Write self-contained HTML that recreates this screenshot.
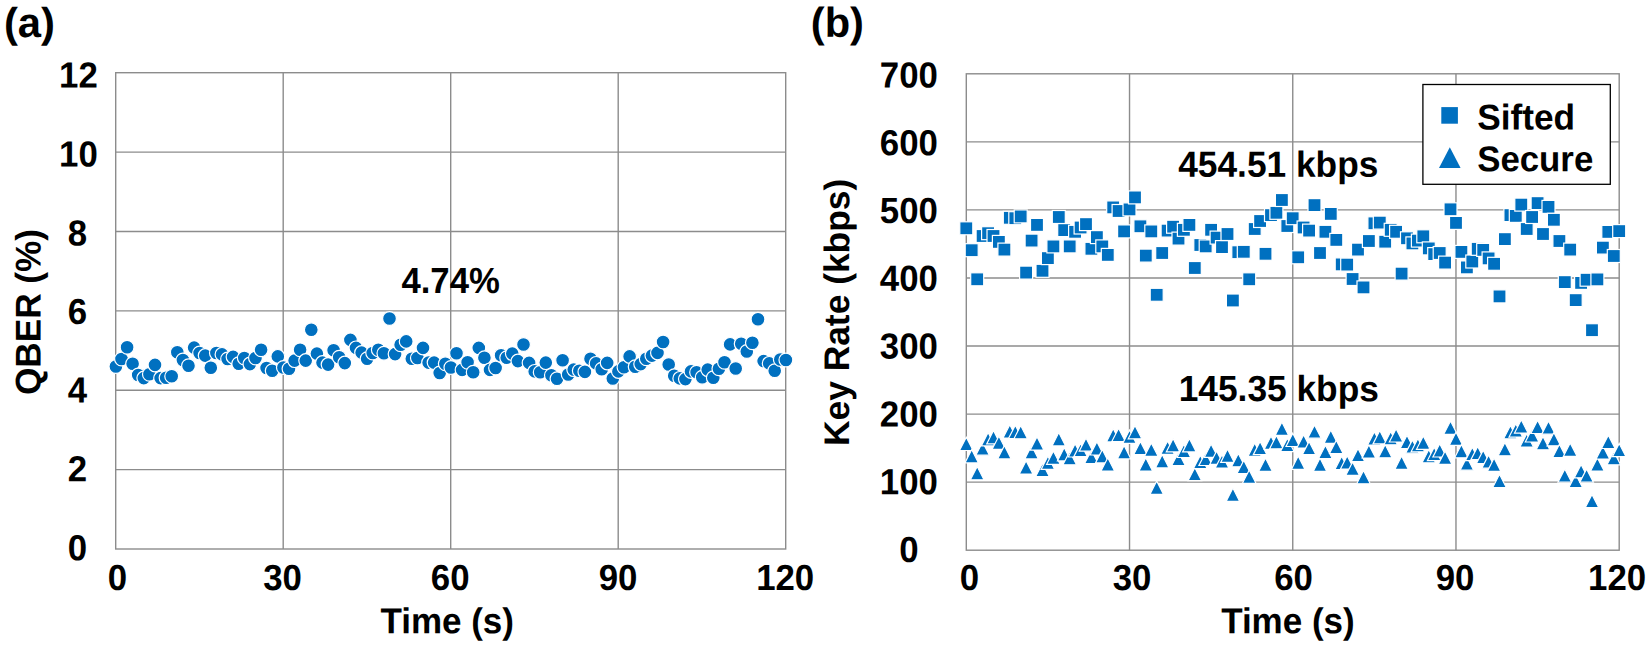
<!DOCTYPE html>
<html lang="en"><head><meta charset="utf-8"><title>QBER and Key Rate</title>
<style>html,body{margin:0;padding:0;background:#fff}body{width:1650px;height:647px;overflow:hidden}svg{display:block}text{font-family:"Liberation Sans",sans-serif;font-weight:bold;fill:#000}.g{stroke:#8c8c8c;stroke-width:1.4;fill:none}.m{fill:#0070C0;stroke:#fff;stroke-width:1.2}</style></head><body>
<svg width="1650" height="647" viewBox="0 0 1650 647">
<rect width="1650" height="647" fill="#fff"/>
<g class="g">
<rect x="115.70" y="72.70" width="670.00" height="476.30"/>
<line x1="115.70" y1="152.08" x2="785.70" y2="152.08"/>
<line x1="115.70" y1="231.47" x2="785.70" y2="231.47"/>
<line x1="115.70" y1="310.85" x2="785.70" y2="310.85"/>
<line x1="115.70" y1="390.23" x2="785.70" y2="390.23"/>
<line x1="115.70" y1="469.62" x2="785.70" y2="469.62"/>
<line x1="283.20" y1="72.70" x2="283.20" y2="549.00"/>
<line x1="450.70" y1="72.70" x2="450.70" y2="549.00"/>
<line x1="618.20" y1="72.70" x2="618.20" y2="549.00"/>
</g>
<text transform="translate(78.40,87.40) rotate(0.03) scale(1,1.042)" font-size="34.80" text-anchor="middle">12</text>
<text transform="translate(78.40,166.50) rotate(0.03) scale(1,1.042)" font-size="34.80" text-anchor="middle">10</text>
<text transform="translate(77.50,245.40) rotate(0.03) scale(1,1.042)" font-size="34.80" text-anchor="middle">8</text>
<text transform="translate(77.50,324.10) rotate(0.03) scale(1,1.042)" font-size="34.80" text-anchor="middle">6</text>
<text transform="translate(77.50,402.50) rotate(0.03) scale(1,1.042)" font-size="34.80" text-anchor="middle">4</text>
<text transform="translate(77.50,481.20) rotate(0.03) scale(1,1.042)" font-size="34.80" text-anchor="middle">2</text>
<text transform="translate(77.50,560.20) rotate(0.03) scale(1,1.042)" font-size="34.80" text-anchor="middle">0</text>
<text transform="translate(117.30,590.00) rotate(0.03) scale(1,1.042)" font-size="34.80" text-anchor="middle">0</text>
<text transform="translate(282.50,590.00) rotate(0.03) scale(1,1.042)" font-size="34.80" text-anchor="middle">30</text>
<text transform="translate(450.20,590.00) rotate(0.03) scale(1,1.042)" font-size="34.80" text-anchor="middle">60</text>
<text transform="translate(618.10,590.00) rotate(0.03) scale(1,1.042)" font-size="34.80" text-anchor="middle">90</text>
<text transform="translate(785.20,590.00) rotate(0.03) scale(1,1.042)" font-size="34.80" text-anchor="middle">120</text>
<text transform="translate(447.20,633.20) rotate(0.03) scale(1,1.030)" font-size="35.00" text-anchor="middle">Time (s)</text>
<text transform="translate(40.60,312.00) rotate(-89.97) scale(1,1.015)" font-size="35.20" text-anchor="middle">QBER (%)</text>
<text transform="translate(3.90,36.90) rotate(0.03) scale(1,1.000)" font-size="41.80" text-anchor="start">(a)</text>
<text transform="translate(450.60,293.00) rotate(0.03) scale(1,1.045)" font-size="34.70" text-anchor="middle">4.74%</text>
<g class="m">
<circle cx="115.9" cy="366.5" r="6.9"/>
<circle cx="121.5" cy="359.0" r="6.9"/>
<circle cx="127.1" cy="347.3" r="6.9"/>
<circle cx="132.6" cy="363.7" r="6.9"/>
<circle cx="138.2" cy="375.0" r="6.9"/>
<circle cx="143.8" cy="378.1" r="6.9"/>
<circle cx="149.4" cy="374.2" r="6.9"/>
<circle cx="155.0" cy="364.9" r="6.9"/>
<circle cx="160.6" cy="378.1" r="6.9"/>
<circle cx="166.1" cy="377.7" r="6.9"/>
<circle cx="171.7" cy="376.2" r="6.9"/>
<circle cx="177.3" cy="352.2" r="6.9"/>
<circle cx="182.9" cy="360.0" r="6.9"/>
<circle cx="188.5" cy="365.7" r="6.9"/>
<circle cx="194.1" cy="347.6" r="6.9"/>
<circle cx="199.6" cy="353.0" r="6.9"/>
<circle cx="205.2" cy="355.6" r="6.9"/>
<circle cx="210.8" cy="367.7" r="6.9"/>
<circle cx="216.4" cy="353.0" r="6.9"/>
<circle cx="222.0" cy="354.4" r="6.9"/>
<circle cx="227.6" cy="359.0" r="6.9"/>
<circle cx="233.1" cy="356.9" r="6.9"/>
<circle cx="238.7" cy="363.7" r="6.9"/>
<circle cx="244.3" cy="358.0" r="6.9"/>
<circle cx="249.9" cy="364.1" r="6.9"/>
<circle cx="255.5" cy="358.0" r="6.9"/>
<circle cx="261.1" cy="349.8" r="6.9"/>
<circle cx="266.6" cy="368.0" r="6.9"/>
<circle cx="272.2" cy="370.8" r="6.9"/>
<circle cx="277.8" cy="356.4" r="6.9"/>
<circle cx="283.4" cy="367.5" r="6.9"/>
<circle cx="289.0" cy="368.8" r="6.9"/>
<circle cx="294.6" cy="360.6" r="6.9"/>
<circle cx="300.1" cy="349.8" r="6.9"/>
<circle cx="305.7" cy="360.6" r="6.9"/>
<circle cx="311.3" cy="329.7" r="6.9"/>
<circle cx="316.9" cy="353.6" r="6.9"/>
<circle cx="322.5" cy="362.6" r="6.9"/>
<circle cx="328.1" cy="364.6" r="6.9"/>
<circle cx="333.6" cy="350.2" r="6.9"/>
<circle cx="339.2" cy="357.2" r="6.9"/>
<circle cx="344.8" cy="363.1" r="6.9"/>
<circle cx="350.4" cy="339.9" r="6.9"/>
<circle cx="356.0" cy="347.9" r="6.9"/>
<circle cx="361.6" cy="352.6" r="6.9"/>
<circle cx="367.1" cy="358.7" r="6.9"/>
<circle cx="372.7" cy="353.0" r="6.9"/>
<circle cx="378.3" cy="349.8" r="6.9"/>
<circle cx="383.9" cy="353.3" r="6.9"/>
<circle cx="389.5" cy="318.5" r="6.9"/>
<circle cx="395.1" cy="354.1" r="6.9"/>
<circle cx="400.6" cy="344.8" r="6.9"/>
<circle cx="406.2" cy="341.4" r="6.9"/>
<circle cx="411.8" cy="358.7" r="6.9"/>
<circle cx="417.4" cy="358.0" r="6.9"/>
<circle cx="423.0" cy="347.9" r="6.9"/>
<circle cx="428.6" cy="362.6" r="6.9"/>
<circle cx="434.1" cy="362.6" r="6.9"/>
<circle cx="439.7" cy="373.0" r="6.9"/>
<circle cx="445.3" cy="363.7" r="6.9"/>
<circle cx="450.9" cy="367.5" r="6.9"/>
<circle cx="456.5" cy="353.3" r="6.9"/>
<circle cx="462.1" cy="369.9" r="6.9"/>
<circle cx="467.6" cy="362.3" r="6.9"/>
<circle cx="473.2" cy="372.2" r="6.9"/>
<circle cx="478.8" cy="347.9" r="6.9"/>
<circle cx="484.4" cy="357.7" r="6.9"/>
<circle cx="490.0" cy="369.9" r="6.9"/>
<circle cx="495.6" cy="368.0" r="6.9"/>
<circle cx="501.1" cy="355.2" r="6.9"/>
<circle cx="506.7" cy="357.7" r="6.9"/>
<circle cx="512.3" cy="353.6" r="6.9"/>
<circle cx="517.9" cy="361.1" r="6.9"/>
<circle cx="523.5" cy="344.5" r="6.9"/>
<circle cx="529.1" cy="362.9" r="6.9"/>
<circle cx="534.7" cy="371.4" r="6.9"/>
<circle cx="540.2" cy="372.3" r="6.9"/>
<circle cx="545.8" cy="362.6" r="6.9"/>
<circle cx="551.4" cy="375.3" r="6.9"/>
<circle cx="557.0" cy="378.8" r="6.9"/>
<circle cx="562.6" cy="360.3" r="6.9"/>
<circle cx="568.2" cy="374.5" r="6.9"/>
<circle cx="573.7" cy="369.6" r="6.9"/>
<circle cx="579.3" cy="370.8" r="6.9"/>
<circle cx="584.9" cy="371.9" r="6.9"/>
<circle cx="590.5" cy="358.7" r="6.9"/>
<circle cx="596.1" cy="363.4" r="6.9"/>
<circle cx="601.7" cy="369.2" r="6.9"/>
<circle cx="607.2" cy="362.9" r="6.9"/>
<circle cx="612.8" cy="378.5" r="6.9"/>
<circle cx="618.4" cy="371.4" r="6.9"/>
<circle cx="624.0" cy="367.2" r="6.9"/>
<circle cx="629.6" cy="356.4" r="6.9"/>
<circle cx="635.2" cy="366.8" r="6.9"/>
<circle cx="640.7" cy="364.1" r="6.9"/>
<circle cx="646.3" cy="358.7" r="6.9"/>
<circle cx="651.9" cy="355.6" r="6.9"/>
<circle cx="657.5" cy="352.9" r="6.9"/>
<circle cx="663.1" cy="342.0" r="6.9"/>
<circle cx="668.7" cy="364.5" r="6.9"/>
<circle cx="674.2" cy="375.7" r="6.9"/>
<circle cx="679.8" cy="378.4" r="6.9"/>
<circle cx="685.4" cy="379.1" r="6.9"/>
<circle cx="691.0" cy="371.4" r="6.9"/>
<circle cx="696.6" cy="372.2" r="6.9"/>
<circle cx="702.2" cy="377.3" r="6.9"/>
<circle cx="707.7" cy="369.6" r="6.9"/>
<circle cx="713.3" cy="377.7" r="6.9"/>
<circle cx="718.9" cy="368.8" r="6.9"/>
<circle cx="724.5" cy="362.3" r="6.9"/>
<circle cx="730.1" cy="344.4" r="6.9"/>
<circle cx="735.7" cy="368.5" r="6.9"/>
<circle cx="741.2" cy="343.7" r="6.9"/>
<circle cx="746.8" cy="351.5" r="6.9"/>
<circle cx="752.4" cy="342.8" r="6.9"/>
<circle cx="758.0" cy="319.3" r="6.9"/>
<circle cx="763.6" cy="361.1" r="6.9"/>
<circle cx="769.2" cy="363.4" r="6.9"/>
<circle cx="774.7" cy="370.8" r="6.9"/>
<circle cx="780.3" cy="359.5" r="6.9"/>
<circle cx="785.9" cy="360.0" r="6.9"/>
</g>
<g class="g">
<rect x="966.30" y="73.80" width="652.90" height="476.40"/>
<line x1="966.30" y1="141.86" x2="1619.20" y2="141.86"/>
<line x1="966.30" y1="209.91" x2="1619.20" y2="209.91"/>
<line x1="966.30" y1="277.97" x2="1619.20" y2="277.97"/>
<line x1="966.30" y1="346.03" x2="1619.20" y2="346.03"/>
<line x1="966.30" y1="414.09" x2="1619.20" y2="414.09"/>
<line x1="966.30" y1="482.14" x2="1619.20" y2="482.14"/>
<line x1="1129.53" y1="73.80" x2="1129.53" y2="550.20"/>
<line x1="1292.75" y1="73.80" x2="1292.75" y2="550.20"/>
<line x1="1455.97" y1="73.80" x2="1455.97" y2="550.20"/>
</g>
<text transform="translate(908.80,87.40) rotate(0.03) scale(1,1.042)" font-size="34.80" text-anchor="middle">700</text>
<text transform="translate(908.80,155.20) rotate(0.03) scale(1,1.042)" font-size="34.80" text-anchor="middle">600</text>
<text transform="translate(908.80,223.00) rotate(0.03) scale(1,1.042)" font-size="34.80" text-anchor="middle">500</text>
<text transform="translate(908.80,290.80) rotate(0.03) scale(1,1.042)" font-size="34.80" text-anchor="middle">400</text>
<text transform="translate(908.80,358.60) rotate(0.03) scale(1,1.042)" font-size="34.80" text-anchor="middle">300</text>
<text transform="translate(908.80,426.40) rotate(0.03) scale(1,1.042)" font-size="34.80" text-anchor="middle">200</text>
<text transform="translate(908.80,494.20) rotate(0.03) scale(1,1.042)" font-size="34.80" text-anchor="middle">100</text>
<text transform="translate(908.80,562.00) rotate(0.03) scale(1,1.042)" font-size="34.80" text-anchor="middle">0</text>
<text transform="translate(969.50,590.00) rotate(0.03) scale(1,1.042)" font-size="34.80" text-anchor="middle">0</text>
<text transform="translate(1132.00,590.00) rotate(0.03) scale(1,1.042)" font-size="34.80" text-anchor="middle">30</text>
<text transform="translate(1293.50,590.00) rotate(0.03) scale(1,1.042)" font-size="34.80" text-anchor="middle">60</text>
<text transform="translate(1455.10,590.00) rotate(0.03) scale(1,1.042)" font-size="34.80" text-anchor="middle">90</text>
<text transform="translate(1617.10,590.00) rotate(0.03) scale(1,1.042)" font-size="34.80" text-anchor="middle">120</text>
<text transform="translate(1287.90,633.20) rotate(0.03) scale(1,1.030)" font-size="35.00" text-anchor="middle">Time (s)</text>
<text transform="translate(849.10,312.40) rotate(-89.97) scale(1,1.005)" font-size="35.40" text-anchor="middle">Key Rate (kbps)</text>
<text transform="translate(810.80,36.70) rotate(0.03) scale(1,1.000)" font-size="41.60" text-anchor="start">(b)</text>
<text transform="translate(1278.30,176.80) rotate(0.03) scale(1,1.030)" font-size="35.30" text-anchor="middle">454.51 kbps</text>
<text transform="translate(1278.80,401.10) rotate(0.03) scale(1,1.030)" font-size="35.30" text-anchor="middle">145.35 kbps</text>
<g class="m">
<rect x="959.8" y="221.8" width="13" height="13"/>
<rect x="965.2" y="243.7" width="13" height="13"/>
<rect x="970.7" y="272.8" width="13" height="13"/>
<rect x="976.1" y="229.5" width="13" height="13"/>
<rect x="981.6" y="226.7" width="13" height="13"/>
<rect x="987.0" y="229.5" width="13" height="13"/>
<rect x="992.4" y="235.4" width="13" height="13"/>
<rect x="997.9" y="243.1" width="13" height="13"/>
<rect x="1003.3" y="211.3" width="13" height="13"/>
<rect x="1008.8" y="211.7" width="13" height="13"/>
<rect x="1014.2" y="209.9" width="13" height="13"/>
<rect x="1019.6" y="266.1" width="13" height="13"/>
<rect x="1025.1" y="234.1" width="13" height="13"/>
<rect x="1030.5" y="218.4" width="13" height="13"/>
<rect x="1036.0" y="264.3" width="13" height="13"/>
<rect x="1041.4" y="251.6" width="13" height="13"/>
<rect x="1046.9" y="239.9" width="13" height="13"/>
<rect x="1052.3" y="210.5" width="13" height="13"/>
<rect x="1057.7" y="223.6" width="13" height="13"/>
<rect x="1063.2" y="239.9" width="13" height="13"/>
<rect x="1068.6" y="225.3" width="13" height="13"/>
<rect x="1074.1" y="221.0" width="13" height="13"/>
<rect x="1079.5" y="217.6" width="13" height="13"/>
<rect x="1084.9" y="242.3" width="13" height="13"/>
<rect x="1090.4" y="230.6" width="13" height="13"/>
<rect x="1095.8" y="239.9" width="13" height="13"/>
<rect x="1101.3" y="248.4" width="13" height="13"/>
<rect x="1106.7" y="200.9" width="13" height="13"/>
<rect x="1112.1" y="204.5" width="13" height="13"/>
<rect x="1117.6" y="224.9" width="13" height="13"/>
<rect x="1123.0" y="202.9" width="13" height="13"/>
<rect x="1128.5" y="190.9" width="13" height="13"/>
<rect x="1133.9" y="219.8" width="13" height="13"/>
<rect x="1139.3" y="249.1" width="13" height="13"/>
<rect x="1144.8" y="224.9" width="13" height="13"/>
<rect x="1150.2" y="288.3" width="13" height="13"/>
<rect x="1155.7" y="246.5" width="13" height="13"/>
<rect x="1161.1" y="224.1" width="13" height="13"/>
<rect x="1166.6" y="220.2" width="13" height="13"/>
<rect x="1172.0" y="232.1" width="13" height="13"/>
<rect x="1177.4" y="223.3" width="13" height="13"/>
<rect x="1182.9" y="218.4" width="13" height="13"/>
<rect x="1188.3" y="261.5" width="13" height="13"/>
<rect x="1193.8" y="238.5" width="13" height="13"/>
<rect x="1199.2" y="239.9" width="13" height="13"/>
<rect x="1204.6" y="223.3" width="13" height="13"/>
<rect x="1210.1" y="231.1" width="13" height="13"/>
<rect x="1215.5" y="240.6" width="13" height="13"/>
<rect x="1221.0" y="227.5" width="13" height="13"/>
<rect x="1226.4" y="294.0" width="13" height="13"/>
<rect x="1231.8" y="245.7" width="13" height="13"/>
<rect x="1237.3" y="245.3" width="13" height="13"/>
<rect x="1242.7" y="272.8" width="13" height="13"/>
<rect x="1248.2" y="222.5" width="13" height="13"/>
<rect x="1253.6" y="214.5" width="13" height="13"/>
<rect x="1259.0" y="247.3" width="13" height="13"/>
<rect x="1264.5" y="208.6" width="13" height="13"/>
<rect x="1269.9" y="206.3" width="13" height="13"/>
<rect x="1275.4" y="193.5" width="13" height="13"/>
<rect x="1280.8" y="219.5" width="13" height="13"/>
<rect x="1286.2" y="211.7" width="13" height="13"/>
<rect x="1291.7" y="250.8" width="13" height="13"/>
<rect x="1297.1" y="221.0" width="13" height="13"/>
<rect x="1302.6" y="224.1" width="13" height="13"/>
<rect x="1308.0" y="198.6" width="13" height="13"/>
<rect x="1313.5" y="246.5" width="13" height="13"/>
<rect x="1318.9" y="225.3" width="13" height="13"/>
<rect x="1324.3" y="207.4" width="13" height="13"/>
<rect x="1329.8" y="233.4" width="13" height="13"/>
<rect x="1335.2" y="257.9" width="13" height="13"/>
<rect x="1340.7" y="258.1" width="13" height="13"/>
<rect x="1346.1" y="272.5" width="13" height="13"/>
<rect x="1351.5" y="243.1" width="13" height="13"/>
<rect x="1357.0" y="280.9" width="13" height="13"/>
<rect x="1362.4" y="234.5" width="13" height="13"/>
<rect x="1367.9" y="216.8" width="13" height="13"/>
<rect x="1373.3" y="216.1" width="13" height="13"/>
<rect x="1378.7" y="235.2" width="13" height="13"/>
<rect x="1384.2" y="223.3" width="13" height="13"/>
<rect x="1389.6" y="225.3" width="13" height="13"/>
<rect x="1395.1" y="267.1" width="13" height="13"/>
<rect x="1400.5" y="231.8" width="13" height="13"/>
<rect x="1405.9" y="236.9" width="13" height="13"/>
<rect x="1411.4" y="234.1" width="13" height="13"/>
<rect x="1416.8" y="229.8" width="13" height="13"/>
<rect x="1422.3" y="241.9" width="13" height="13"/>
<rect x="1427.7" y="247.6" width="13" height="13"/>
<rect x="1433.2" y="246.5" width="13" height="13"/>
<rect x="1438.6" y="256.1" width="13" height="13"/>
<rect x="1444.0" y="202.8" width="13" height="13"/>
<rect x="1449.5" y="216.4" width="13" height="13"/>
<rect x="1454.9" y="245.4" width="13" height="13"/>
<rect x="1460.4" y="260.9" width="13" height="13"/>
<rect x="1465.8" y="255.0" width="13" height="13"/>
<rect x="1471.2" y="242.3" width="13" height="13"/>
<rect x="1476.7" y="243.4" width="13" height="13"/>
<rect x="1482.1" y="251.9" width="13" height="13"/>
<rect x="1487.6" y="257.3" width="13" height="13"/>
<rect x="1493.0" y="289.9" width="13" height="13"/>
<rect x="1498.4" y="232.6" width="13" height="13"/>
<rect x="1503.9" y="208.6" width="13" height="13"/>
<rect x="1509.3" y="209.4" width="13" height="13"/>
<rect x="1514.8" y="198.1" width="13" height="13"/>
<rect x="1520.2" y="222.5" width="13" height="13"/>
<rect x="1525.6" y="210.5" width="13" height="13"/>
<rect x="1531.1" y="196.6" width="13" height="13"/>
<rect x="1536.5" y="227.5" width="13" height="13"/>
<rect x="1542.0" y="200.4" width="13" height="13"/>
<rect x="1547.4" y="213.3" width="13" height="13"/>
<rect x="1552.9" y="234.5" width="13" height="13"/>
<rect x="1558.3" y="275.6" width="13" height="13"/>
<rect x="1563.7" y="243.1" width="13" height="13"/>
<rect x="1569.2" y="293.6" width="13" height="13"/>
<rect x="1574.6" y="276.4" width="13" height="13"/>
<rect x="1580.1" y="273.2" width="13" height="13"/>
<rect x="1585.5" y="323.7" width="13" height="13"/>
<rect x="1590.9" y="272.9" width="13" height="13"/>
<rect x="1596.4" y="241.1" width="13" height="13"/>
<rect x="1601.8" y="225.4" width="13" height="13"/>
<rect x="1607.3" y="249.5" width="13" height="13"/>
<rect x="1612.7" y="224.6" width="13" height="13"/>
<path d="M966.3 437.2L973.1 450.5L959.5 450.5Z"/>
<path d="M971.7 449.6L978.5 462.9L964.9 462.9Z"/>
<path d="M977.2 466.5L984.0 479.8L970.4 479.8Z"/>
<path d="M982.6 441.9L989.4 455.2L975.8 455.2Z"/>
<path d="M988.1 432.6L994.9 445.9L981.3 445.9Z"/>
<path d="M993.5 430.6L1000.3 443.9L986.7 443.9Z"/>
<path d="M998.9 436.0L1005.7 449.3L992.1 449.3Z"/>
<path d="M1004.4 445.6L1011.2 458.9L997.6 458.9Z"/>
<path d="M1009.8 424.7L1016.6 438.0L1003.0 438.0Z"/>
<path d="M1015.3 425.2L1022.1 438.5L1008.5 438.5Z"/>
<path d="M1020.7 425.5L1027.5 438.8L1013.9 438.8Z"/>
<path d="M1026.1 460.7L1032.9 474.0L1019.3 474.0Z"/>
<path d="M1031.6 445.6L1038.4 458.9L1024.8 458.9Z"/>
<path d="M1037.0 436.8L1043.8 450.1L1030.2 450.1Z"/>
<path d="M1042.5 463.2L1049.3 476.5L1035.7 476.5Z"/>
<path d="M1047.9 456.1L1054.7 469.4L1041.1 469.4Z"/>
<path d="M1053.4 451.0L1060.2 464.3L1046.6 464.3Z"/>
<path d="M1058.8 432.6L1065.6 445.9L1052.0 445.9Z"/>
<path d="M1064.2 447.6L1071.0 460.9L1057.4 460.9Z"/>
<path d="M1069.7 451.5L1076.5 464.8L1062.9 464.8Z"/>
<path d="M1075.1 443.7L1081.9 457.0L1068.3 457.0Z"/>
<path d="M1080.6 443.4L1087.4 456.7L1073.8 456.7Z"/>
<path d="M1086.0 437.9L1092.8 451.2L1079.2 451.2Z"/>
<path d="M1091.4 450.2L1098.2 463.5L1084.6 463.5Z"/>
<path d="M1096.9 441.7L1103.7 455.0L1090.1 455.0Z"/>
<path d="M1102.3 449.6L1109.1 462.9L1095.5 462.9Z"/>
<path d="M1107.8 457.7L1114.6 471.0L1101.0 471.0Z"/>
<path d="M1113.2 428.6L1120.0 441.9L1106.4 441.9Z"/>
<path d="M1118.6 428.3L1125.4 441.6L1111.8 441.6Z"/>
<path d="M1124.1 445.6L1130.9 458.9L1117.3 458.9Z"/>
<path d="M1129.5 430.1L1136.3 443.4L1122.7 443.4Z"/>
<path d="M1135.0 425.5L1141.8 438.8L1128.2 438.8Z"/>
<path d="M1140.4 441.4L1147.2 454.7L1133.6 454.7Z"/>
<path d="M1145.8 457.7L1152.6 471.0L1139.0 471.0Z"/>
<path d="M1151.3 443.0L1158.1 456.3L1144.5 456.3Z"/>
<path d="M1156.7 481.1L1163.5 494.4L1149.9 494.4Z"/>
<path d="M1162.2 454.6L1169.0 467.9L1155.4 467.9Z"/>
<path d="M1167.6 441.0L1174.4 454.3L1160.8 454.3Z"/>
<path d="M1173.1 438.6L1179.9 451.9L1166.3 451.9Z"/>
<path d="M1178.5 452.2L1185.3 465.5L1171.7 465.5Z"/>
<path d="M1183.9 444.2L1190.7 457.5L1177.1 457.5Z"/>
<path d="M1189.4 438.6L1196.2 451.9L1182.6 451.9Z"/>
<path d="M1194.8 467.4L1201.6 480.7L1188.0 480.7Z"/>
<path d="M1200.3 455.3L1207.1 468.6L1193.5 468.6Z"/>
<path d="M1205.7 452.2L1212.5 465.5L1198.9 465.5Z"/>
<path d="M1211.1 444.0L1217.9 457.3L1204.3 457.3Z"/>
<path d="M1216.6 451.0L1223.4 464.3L1209.8 464.3Z"/>
<path d="M1222.0 454.7L1228.8 468.0L1215.2 468.0Z"/>
<path d="M1227.5 449.1L1234.3 462.4L1220.7 462.4Z"/>
<path d="M1232.9 488.1L1239.7 501.4L1226.1 501.4Z"/>
<path d="M1238.3 453.5L1245.1 466.8L1231.5 466.8Z"/>
<path d="M1243.8 460.3L1250.6 473.6L1237.0 473.6Z"/>
<path d="M1249.2 470.0L1256.0 483.3L1242.4 483.3Z"/>
<path d="M1254.7 443.1L1261.5 456.4L1247.9 456.4Z"/>
<path d="M1260.1 441.4L1266.9 454.7L1253.3 454.7Z"/>
<path d="M1265.5 458.0L1272.3 471.3L1258.7 471.3Z"/>
<path d="M1271.0 436.0L1277.8 449.3L1264.2 449.3Z"/>
<path d="M1276.4 435.5L1283.2 448.8L1269.6 448.8Z"/>
<path d="M1281.9 422.1L1288.7 435.4L1275.1 435.4Z"/>
<path d="M1287.3 438.3L1294.1 451.6L1280.5 451.6Z"/>
<path d="M1292.8 433.2L1299.5 446.5L1286.0 446.5Z"/>
<path d="M1298.2 456.1L1305.0 469.4L1291.4 469.4Z"/>
<path d="M1303.6 434.8L1310.4 448.1L1296.8 448.1Z"/>
<path d="M1309.1 441.4L1315.9 454.7L1302.3 454.7Z"/>
<path d="M1314.5 424.9L1321.3 438.2L1307.7 438.2Z"/>
<path d="M1320.0 458.1L1326.8 471.4L1313.2 471.4Z"/>
<path d="M1325.4 445.3L1332.2 458.6L1318.6 458.6Z"/>
<path d="M1330.8 430.1L1337.6 443.4L1324.0 443.4Z"/>
<path d="M1336.3 440.2L1343.1 453.5L1329.5 453.5Z"/>
<path d="M1341.7 456.3L1348.5 469.6L1334.9 469.6Z"/>
<path d="M1347.2 455.8L1354.0 469.1L1340.4 469.1Z"/>
<path d="M1352.6 462.0L1359.4 475.3L1345.8 475.3Z"/>
<path d="M1358.0 448.4L1364.8 461.7L1351.2 461.7Z"/>
<path d="M1363.5 470.5L1370.3 483.8L1356.7 483.8Z"/>
<path d="M1368.9 444.7L1375.7 458.0L1362.1 458.0Z"/>
<path d="M1374.4 431.7L1381.2 445.0L1367.6 445.0Z"/>
<path d="M1379.8 430.6L1386.6 443.9L1373.0 443.9Z"/>
<path d="M1385.2 444.5L1392.0 457.8L1378.4 457.8Z"/>
<path d="M1390.7 431.5L1397.5 444.8L1383.9 444.8Z"/>
<path d="M1396.1 428.7L1402.9 442.0L1389.3 442.0Z"/>
<path d="M1401.6 456.1L1408.4 469.4L1394.8 469.4Z"/>
<path d="M1407.0 435.2L1413.8 448.5L1400.2 448.5Z"/>
<path d="M1412.4 439.9L1419.2 453.2L1405.6 453.2Z"/>
<path d="M1417.9 438.5L1424.7 451.8L1411.1 451.8Z"/>
<path d="M1423.3 436.0L1430.1 449.3L1416.5 449.3Z"/>
<path d="M1428.8 449.5L1435.6 462.8L1422.0 462.8Z"/>
<path d="M1434.2 447.3L1441.0 460.6L1427.4 460.6Z"/>
<path d="M1439.7 443.7L1446.5 457.0L1432.9 457.0Z"/>
<path d="M1445.1 451.0L1451.9 464.3L1438.3 464.3Z"/>
<path d="M1450.5 421.0L1457.3 434.3L1443.7 434.3Z"/>
<path d="M1456.0 432.1L1462.8 445.4L1449.2 445.4Z"/>
<path d="M1461.4 444.5L1468.2 457.8L1454.6 457.8Z"/>
<path d="M1466.9 456.9L1473.7 470.2L1460.1 470.2Z"/>
<path d="M1472.3 447.3L1479.1 460.6L1465.5 460.6Z"/>
<path d="M1477.7 446.4L1484.5 459.7L1470.9 459.7Z"/>
<path d="M1483.2 450.2L1490.0 463.5L1476.4 463.5Z"/>
<path d="M1488.6 454.9L1495.4 468.2L1481.8 468.2Z"/>
<path d="M1494.1 458.1L1500.9 471.4L1487.3 471.4Z"/>
<path d="M1499.5 474.3L1506.3 487.6L1492.7 487.6Z"/>
<path d="M1504.9 442.5L1511.7 455.8L1498.1 455.8Z"/>
<path d="M1510.4 425.5L1517.2 438.8L1503.6 438.8Z"/>
<path d="M1515.8 423.8L1522.6 437.1L1509.0 437.1Z"/>
<path d="M1521.3 419.8L1528.1 433.1L1514.5 433.1Z"/>
<path d="M1526.7 433.8L1533.5 447.1L1519.9 447.1Z"/>
<path d="M1532.1 428.7L1538.9 442.0L1525.3 442.0Z"/>
<path d="M1537.6 420.2L1544.4 433.5L1530.8 433.5Z"/>
<path d="M1543.0 436.5L1549.8 449.8L1536.2 449.8Z"/>
<path d="M1548.5 420.9L1555.3 434.2L1541.7 434.2Z"/>
<path d="M1553.9 432.5L1560.7 445.8L1547.1 445.8Z"/>
<path d="M1559.4 444.2L1566.2 457.5L1552.6 457.5Z"/>
<path d="M1564.8 468.9L1571.6 482.2L1558.0 482.2Z"/>
<path d="M1570.2 443.0L1577.0 456.3L1563.4 456.3Z"/>
<path d="M1575.7 474.3L1582.5 487.6L1568.9 487.6Z"/>
<path d="M1581.1 464.5L1587.9 477.8L1574.3 477.8Z"/>
<path d="M1586.6 468.9L1593.4 482.2L1579.8 482.2Z"/>
<path d="M1592.0 494.4L1598.8 507.7L1585.2 507.7Z"/>
<path d="M1597.4 457.7L1604.2 471.0L1590.6 471.0Z"/>
<path d="M1602.9 445.7L1609.7 459.0L1596.1 459.0Z"/>
<path d="M1608.3 435.2L1615.1 448.5L1601.5 448.5Z"/>
<path d="M1613.8 451.5L1620.6 464.8L1607.0 464.8Z"/>
<path d="M1619.2 443.4L1626.0 456.7L1612.4 456.7Z"/>
</g>
<rect x="1422.9" y="84.5" width="187.4" height="99.8" fill="#fff" stroke="#000" stroke-width="1.3"/>
<rect x="1441.3" y="107.1" width="16.6" height="16.6" fill="#0070C0"/>
<path d="M1449.8 147.3L1460.6 167.9L1439 167.9Z" fill="#0070C0"/>
<text transform="translate(1477.20,129.50) rotate(0.03) scale(1,1.017)" font-size="35.25" text-anchor="start">Sifted</text>
<text transform="translate(1477.20,171.20) rotate(0.03) scale(1,1.030)" font-size="34.80" text-anchor="start">Secure</text>
</svg></body></html>
